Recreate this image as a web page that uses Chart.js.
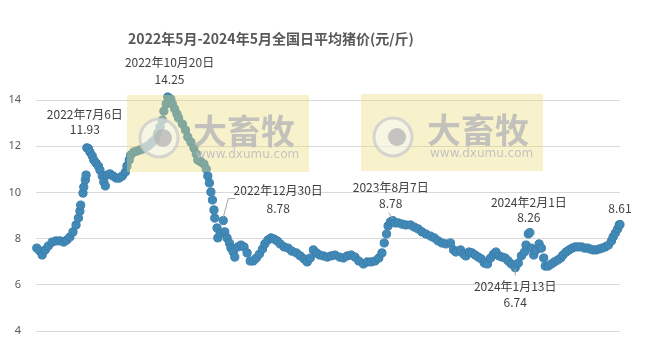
<!DOCTYPE html>
<html><head><meta charset="utf-8">
<script src="https://cdn.jsdelivr.net/npm/chart.js@4.4.1/dist/chart.umd.min.js"></script>
<style>html,body{margin:0;padding:0;background:#fff}#wrap{width:652px;height:357px}</style>
</head><body><div id="wrap"><canvas id="c" width="652" height="357"></canvas></div>
<script>
const chartTitle = '2022年5月-2024年5月全国日平均猪价(元/斤)';
const dates = [
'2022-05-02','2022-05-06','2022-05-09','2022-05-13','2022-05-17','2022-05-22','2022-05-27','2022-06-01','2022-06-06','2022-06-10',
'2022-06-14','2022-06-18','2022-06-22','2022-06-25','2022-06-27','2022-06-28','2022-07-01','2022-07-02','2022-07-04','2022-07-05',
'2022-07-06','2022-07-08','2022-07-10','2022-07-13','2022-07-15','2022-07-18','2022-07-21','2022-07-23','2022-07-26','2022-07-28',
'2022-07-30','2022-08-01','2022-08-05','2022-08-09','2022-08-13','2022-08-17','2022-08-21','2022-08-25','2022-08-27','2022-08-30',
'2022-09-01','2022-09-05','2022-09-09','2022-09-13','2022-09-17','2022-09-21','2022-09-25','2022-09-29','2022-10-03','2022-10-06',
'2022-10-09','2022-10-12','2022-10-14','2022-10-17','2022-10-19','2022-10-20','2022-10-23','2022-10-25','2022-10-28','2022-10-31',
'2022-11-02','2022-11-07','2022-11-11','2022-11-14','2022-11-18','2022-11-22','2022-11-25','2022-11-27','2022-12-01','2022-12-05',
'2022-12-08','2022-12-10','2022-12-12','2022-12-14','2022-12-16','2022-12-18','2022-12-19','2022-12-22','2022-12-23','2022-12-26',
'2022-12-30','2023-01-01','2023-01-04','2023-01-07','2023-01-09','2023-01-12','2023-01-14','2023-01-18','2023-01-22','2023-01-26',
'2023-01-30','2023-02-03','2023-02-07','2023-02-11','2023-02-15','2023-02-19','2023-02-22','2023-02-26','2023-03-02','2023-03-06',
'2023-03-10','2023-03-14','2023-03-19','2023-03-24','2023-03-29','2023-04-04','2023-04-09','2023-04-14','2023-04-18','2023-04-22',
'2023-04-26','2023-04-30','2023-05-04','2023-05-09','2023-05-14','2023-05-19','2023-05-24','2023-05-30','2023-06-04','2023-06-09',
'2023-06-14','2023-06-19','2023-06-24','2023-06-30','2023-07-05','2023-07-10','2023-07-15','2023-07-20','2023-07-24','2023-07-27',
'2023-07-30','2023-08-01','2023-08-04','2023-08-07','2023-08-10','2023-08-14','2023-08-19','2023-08-24','2023-08-30','2023-09-04',
'2023-09-09','2023-09-14','2023-09-19','2023-09-25','2023-09-30','2023-10-05','2023-10-10','2023-10-15','2023-10-21','2023-10-25',
'2023-10-28','2023-11-03','2023-11-07','2023-11-10','2023-11-14','2023-11-18','2023-11-22','2023-11-26','2023-11-30','2023-12-04',
'2023-12-08','2023-12-12','2023-12-16','2023-12-19','2023-12-23','2023-12-27','2023-12-31','2024-01-04','2024-01-08','2024-01-13',
'2024-01-17','2024-01-21','2024-01-25','2024-01-27','2024-01-30','2024-02-01','2024-02-03','2024-02-06','2024-02-09','2024-02-13',
'2024-02-16','2024-02-19','2024-02-21','2024-02-25','2024-02-29','2024-03-04','2024-03-08','2024-03-12','2024-03-15','2024-03-19',
'2024-03-23','2024-03-27','2024-03-31','2024-04-04','2024-04-08','2024-04-12','2024-04-16','2024-04-19','2024-04-23','2024-04-27',
'2024-05-01','2024-05-05','2024-05-09','2024-05-13','2024-05-17','2024-05-19','2024-05-22','2024-05-25','2024-05-27','2024-05-28'
];
const prices = [
7.59,7.46,7.29,7.51,7.68,7.85,7.90,7.90,7.85,7.94,
8.07,8.29,8.59,8.89,9.19,9.45,9.97,10.23,10.54,10.75,
11.93,11.90,11.75,11.58,11.40,11.27,11.14,10.97,10.71,10.45,
10.28,10.75,10.80,10.71,10.62,10.62,10.71,10.88,11.14,11.40,
11.62,11.75,11.79,11.84,11.88,11.97,12.05,12.18,12.31,12.57,
12.83,13.13,13.52,13.83,14.13,14.25,14.04,13.83,13.61,13.39,
13.22,12.96,12.70,12.40,12.18,11.92,11.66,11.40,11.32,11.23,
11.01,10.71,10.41,10.02,9.67,9.24,8.89,8.46,8.03,8.24,
8.78,8.29,8.03,7.81,7.59,7.42,7.20,7.64,7.72,7.64,
7.38,7.03,7.03,7.16,7.33,7.55,7.77,7.94,8.03,7.98,
7.90,7.77,7.64,7.59,7.46,7.38,7.25,7.12,6.99,7.16,
7.51,7.38,7.29,7.25,7.20,7.25,7.29,7.20,7.16,7.25,
7.29,7.20,7.03,6.90,6.99,6.99,7.03,7.16,7.38,7.81,
8.20,8.55,8.72,8.78,8.68,8.68,8.63,8.59,8.59,8.50,
8.42,8.29,8.20,8.11,8.03,7.90,7.81,7.77,7.81,7.51,
7.42,7.51,7.33,7.25,7.42,7.38,7.29,7.20,7.12,6.94,
6.90,7.16,7.33,7.42,7.25,7.20,7.16,7.03,6.90,6.74,
6.94,7.25,7.42,7.72,8.20,8.26,7.59,7.29,7.51,7.77,
7.59,7.16,6.81,6.81,6.90,6.99,7.07,7.16,7.29,7.42,
7.51,7.59,7.64,7.64,7.64,7.59,7.59,7.55,7.51,7.51,
7.55,7.59,7.64,7.72,7.90,8.07,8.24,8.42,8.59,8.61
];
const yTicks = [4, 6, 8, 10, 12, 14];
const markDates  = ['2022-07-06','2022-10-20','2022-12-30','2023-08-07','2024-02-01','2024-01-13','2024-05-28'];
const markTitles = ['2022年7月6日','2022年10月20日','2022年12月30日','2023年8月7日','2024年2月1日','2024年1月13日',''];
const markValues = ['11.93','14.25','8.78','8.78','8.26','6.74','8.61'];
const watermarkMain = '大畜牧';
const watermarkSub = 'www.dxumu.com';

const DAY = 86400000;
const t0 = Date.parse('2022-05-01');
const dayOf = s => (Date.parse(s) - t0) / DAY;
const points = dates.map((d, i) => ({x: dayOf(d), y: prices[i]}));

// label placement (pixel offsets from the marked point)
const markStyle = [
  {dx:-2, dy1:-33, dy2:-18, lead:null},
  {dx:1, dy1:-32, dy2:-15, lead:null},
  {dx:55, dy1:-30, dy2:-12, lead:[[0,-3],[5,-22],[12,-22]]},
  {dx:-2, dy1:-33, dy2:-17, lead:[[-4,-8],[0,-2]]},
  {dx:-1, dy1:-30, dy2:-15, lead:null},
  {dx:0, dy1:19, dy2:35, lead:[[0,1],[0,8]]},
  {dx:0, dy1:0, dy2:-16, lead:null}
];
const FONT = '"Noto Sans CJK SC", "Microsoft YaHei", sans-serif';

const overlay = {
  id: 'overlay',
  afterDatasetsDraw(chart) {
    const ctx = chart.ctx;
    const xs = chart.scales.x, ys = chart.scales.y;
    // watermarks
    const boxes = [[127, 95], [361, 94]];
    ctx.save();
    boxes.forEach(([bx, by]) => {
      ctx.fillStyle = 'rgba(236,222,120,0.38)';
      ctx.fillRect(bx, by, 182, 77);
      const cx = bx + 32, cy = by + 43;
      ctx.beginPath(); ctx.arc(cx, cy, 19, 0, Math.PI * 2);
      ctx.fillStyle = 'rgba(245,245,245,0.55)'; ctx.fill();
      ctx.lineWidth = 3; ctx.strokeStyle = 'rgba(205,205,205,0.8)'; ctx.stroke();
      ctx.beginPath(); ctx.arc(cx + 4, cy, 9, 0, Math.PI * 2);
      ctx.fillStyle = 'rgba(180,180,180,0.75)'; ctx.fill();
      ctx.fillStyle = 'rgba(185,185,185,0.85)';
      ctx.font = 'bold 34px ' + FONT;
      ctx.textAlign = 'left'; ctx.textBaseline = 'middle';
      ctx.fillText(watermarkMain, bx + 66, by + 36);
      ctx.font = '12px "DejaVu Sans", sans-serif';
      ctx.fillStyle = 'rgba(190,190,190,0.9)';
      ctx.fillText(watermarkSub, bx + 69, by + 60);
    });
    ctx.restore();

    // annotations
    ctx.save();
    ctx.fillStyle = '#404040';
    ctx.strokeStyle = '#a6a6a6';
    ctx.lineWidth = 1;
    ctx.textAlign = 'center'; ctx.textBaseline = 'middle';
    ctx.font = '12px ' + FONT;
    markDates.forEach((d, i) => {
      const idx = dates.indexOf(d);
      const px = xs.getPixelForValue(dayOf(d));
      const py = ys.getPixelForValue(prices[idx]);
      const st = markStyle[i];
      if (markTitles[i]) ctx.fillText(markTitles[i], px + st.dx, py + st.dy1);
      ctx.fillText(markValues[i], px + st.dx, py + st.dy2);
      if (st.lead) {
        ctx.beginPath();
        st.lead.forEach(([ox, oy], k) => k ? ctx.lineTo(px + ox, py + oy) : ctx.moveTo(px + ox, py + oy));
        ctx.stroke();
      }
    });
    // title
    ctx.fillStyle = '#595959';
    ctx.font = 'bold 14px ' + FONT;
    ctx.fillText(chartTitle, 271, 39);
    ctx.restore();
  }
};

new Chart(document.getElementById('c'), {
  type: 'scatter',
  data: { datasets: [{
    data: points,
    backgroundColor: '#4189b7',
    borderColor: '#3a7fad',
    borderWidth: 1,
    pointRadius: 4.1,
    showLine: false,
    clip: false
  }]},
  options: {
    responsive: false,
    animation: false,
    layout: { padding: { top: 100, right: 32, bottom: 26, left: 0 } },
    plugins: { legend: { display: false }, tooltip: { enabled: false }, title: { display: false } },
    scales: {
      x: { type: 'linear', display: false, min: 0, max: dayOf('2024-05-28') },
      y: {
        min: 4, max: 14,
        afterBuildTicks: s => { s.ticks = yTicks.map(v => ({value: v})); },
        afterFit: s => { s.width = 36; },
        border: { display: false },
        grid: { color: '#d9d9d9', lineWidth: 1, drawTicks: false },
        ticks: { color: '#595959', padding: 15, font: { size: 11, family: '"Noto Sans", sans-serif' } }
      }
    }
  },
  plugins: [overlay]
});
</script></body></html>
